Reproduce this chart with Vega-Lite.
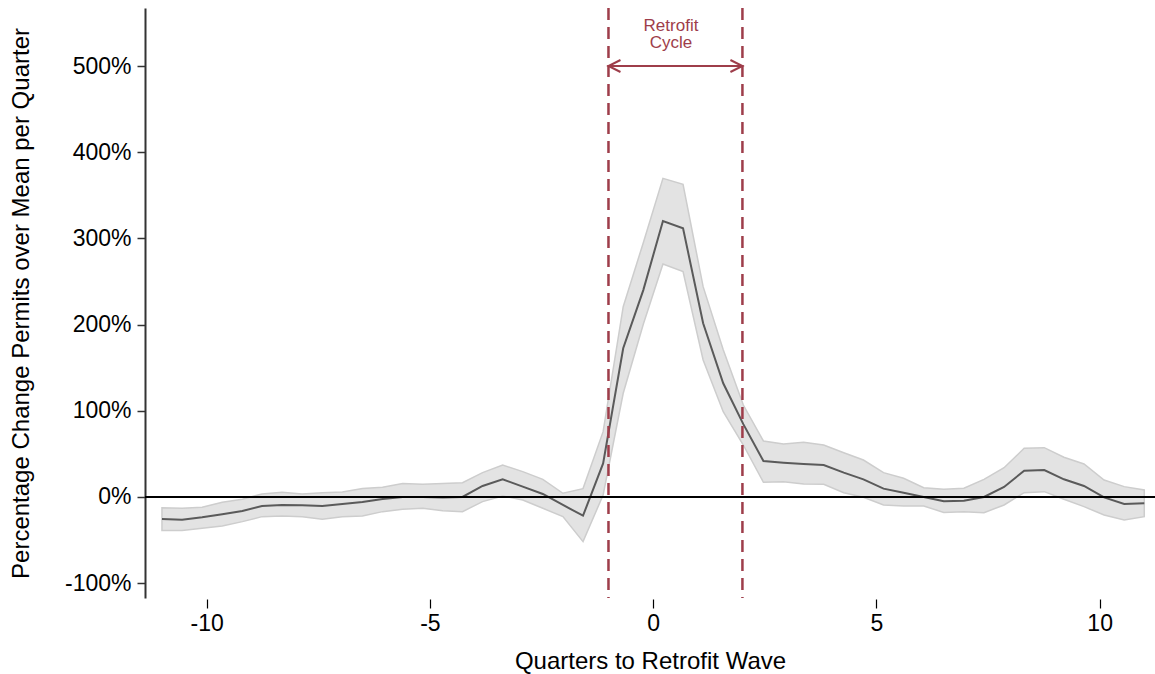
{
  "$schema": "https://vega.github.io/schema/vega-lite/v6.json",
  "width": 1010,
  "height": 590,
  "autosize": {"type": "none"},
  "padding": {"left": 145, "top": 8, "right": 0, "bottom": 76},
  "config": {"view": {"stroke": null}, "font": "Liberation Sans", "axis": {"grid": false}},
  "datasets": {
    "series": [
      {"q": -11.00, "est": -25.5, "lo": -39.0, "hi": -12.4},
      {"q": -10.55, "est": -26.3, "lo": -39.0, "hi": -13.1},
      {"q": -10.10, "est": -23.6, "lo": -36.4, "hi": -12.0},
      {"q": -9.65, "est": -20.0, "lo": -33.6, "hi": -6.2},
      {"q": -9.20, "est": -16.2, "lo": -28.6, "hi": -2.7},
      {"q": -8.76, "est": -10.4, "lo": -22.8, "hi": 3.5},
      {"q": -8.31, "est": -9.3, "lo": -22.0, "hi": 5.4},
      {"q": -7.86, "est": -9.7, "lo": -22.8, "hi": 3.5},
      {"q": -7.41, "est": -10.4, "lo": -25.9, "hi": 5.0},
      {"q": -6.96, "est": -8.1, "lo": -22.8, "hi": 5.8},
      {"q": -6.51, "est": -5.8, "lo": -22.0, "hi": 9.7},
      {"q": -6.06, "est": -2.3, "lo": -17.0, "hi": 11.2},
      {"q": -5.61, "est": 0.0, "lo": -14.3, "hi": 15.5},
      {"q": -5.16, "est": 0.0, "lo": -13.1, "hi": 14.7},
      {"q": -4.71, "est": -0.5, "lo": -15.9, "hi": 15.5},
      {"q": -4.27, "est": 0.0, "lo": -17.0, "hi": 16.6},
      {"q": -3.82, "est": 12.8, "lo": -5.4, "hi": 28.2},
      {"q": -3.37, "est": 20.5, "lo": 1.2, "hi": 37.1},
      {"q": -2.92, "est": 12.0, "lo": -3.5, "hi": 29.4},
      {"q": -2.47, "est": 3.5, "lo": -13.1, "hi": 20.5},
      {"q": -2.02, "est": -9.3, "lo": -22.8, "hi": 4.3},
      {"q": -1.57, "est": -21.7, "lo": -51.8, "hi": 9.7},
      {"q": -1.12, "est": 39.0, "lo": 2.3, "hi": 75.8},
      {"q": -0.67, "est": 172.5, "lo": 120.3, "hi": 220.8},
      {"q": -0.22, "est": 240.0, "lo": 200.3, "hi": 295.0},
      {"q": 0.22, "est": 320.2, "lo": 270.3, "hi": 369.7},
      {"q": 0.67, "est": 311.7, "lo": 261.4, "hi": 362.7},
      {"q": 1.12, "est": 201.5, "lo": 159.0, "hi": 244.0},
      {"q": 1.57, "est": 131.9, "lo": 99.0, "hi": 170.9},
      {"q": 2.02, "est": 84.5, "lo": 60.3, "hi": 106.7},
      {"q": 2.47, "est": 41.8, "lo": 17.0, "hi": 65.0},
      {"q": 2.92, "est": 39.8, "lo": 17.8, "hi": 61.5},
      {"q": 3.37, "est": 38.3, "lo": 15.1, "hi": 63.4},
      {"q": 3.82, "est": 37.1, "lo": 14.7, "hi": 60.3},
      {"q": 4.27, "est": 28.2, "lo": 5.0, "hi": 51.4},
      {"q": 4.71, "est": 20.5, "lo": -0.4, "hi": 42.9},
      {"q": 5.16, "est": 9.7, "lo": -9.3, "hi": 28.2},
      {"q": 5.61, "est": 5.0, "lo": -10.4, "hi": 21.7},
      {"q": 6.06, "est": 0.0, "lo": -10.4, "hi": 10.8},
      {"q": 6.51, "est": -5.0, "lo": -18.0, "hi": 9.0},
      {"q": 6.96, "est": -4.3, "lo": -17.0, "hi": 10.1},
      {"q": 7.41, "est": 0.0, "lo": -18.2, "hi": 20.5},
      {"q": 7.86, "est": 11.6, "lo": -9.3, "hi": 34.0},
      {"q": 8.31, "est": 30.5, "lo": 5.0, "hi": 56.5},
      {"q": 8.76, "est": 31.3, "lo": 6.2, "hi": 57.2},
      {"q": 9.20, "est": 20.5, "lo": -2.7, "hi": 46.1},
      {"q": 9.65, "est": 12.8, "lo": -11.2, "hi": 38.3},
      {"q": 10.10, "est": -0.4, "lo": -20.9, "hi": 19.7},
      {"q": 10.55, "est": -8.1, "lo": -26.7, "hi": 12.0},
      {"q": 11.00, "est": -7.3, "lo": -22.8, "hi": 8.1}
    ],
    "cycle": [{"q": -1}, {"q": 2}],
    "arrow": [{"q1": -1, "q2": 2, "v": 500}],
    "label": [{"q": 0.4, "v": 546.5, "t": "Retrofit\nCycle"}]
  },
  "layer": [
    {
      "data": {"name": "series"},
      "mark": {"type": "area", "fill": "#e3e3e3", "stroke": "#cdcdcd", "strokeWidth": 1.5},
      "encoding": {
        "x": {
          "field": "q", "type": "quantitative",
          "scale": {"domain": [-11.38, 11.24], "nice": false, "zero": false},
          "axis": {
            "values": [-10, -5, 0, 5, 10], "domain": false, "offset": 1,
            "labelExpr": "datum.value < 0 ? '-' + abs(datum.value) : '' + datum.value",
            "tickSize": 9, "tickColor": "#000000", "tickWidth": 1.2,
            "labelFontSize": 23, "labelColor": "#000000", "labelPadding": 4,
            "title": "Quarters to Retrofit Wave", "titleFontSize": 24, "titleFontWeight": "normal",
            "titleColor": "#000000", "titleBaseline": "alphabetic", "titleY": 69
          }
        },
        "y": {
          "field": "lo", "type": "quantitative",
          "scale": {"domain": [-117.2, 567.3], "nice": false, "zero": false},
          "axis": {
            "values": [-100, 0, 100, 200, 300, 400, 500],
            "labelExpr": "datum.value + '%'",
            "domainColor": "#333333", "domainWidth": 2,
            "tickSize": 8, "tickColor": "#333333", "tickWidth": 1.5,
            "labelFontSize": 23, "labelColor": "#000000", "labelPadding": 6,
            "title": "Percentage Change Permits over Mean per Quarter",
            "titleFontSize": 24, "titleFontWeight": "normal", "titleColor": "#000000",
            "titleX": -124, "titleY": 295, "titleAlign": "center", "titleBaseline": "middle"
          }
        },
        "y2": {"field": "hi"}
      }
    },
    {
      "data": {"name": "series"},
      "mark": {"type": "line", "color": "#5a5a5a", "strokeWidth": 2},
      "encoding": {
        "x": {"field": "q", "type": "quantitative"},
        "y": {"field": "est", "type": "quantitative"}
      }
    },
    {
      "data": {"values": [{"v": 0}]},
      "mark": {"type": "rule", "color": "#000000", "strokeWidth": 2},
      "encoding": {"y": {"field": "v", "type": "quantitative"}}
    },
    {
      "data": {"name": "cycle"},
      "mark": {"type": "rule", "color": "#9e3d4a", "strokeWidth": 2.5, "strokeDash": [12, 7]},
      "encoding": {"x": {"field": "q", "type": "quantitative"}}
    },
    {
      "data": {"name": "arrow"},
      "mark": {"type": "rule", "color": "#9e3d4a", "strokeWidth": 2},
      "encoding": {
        "x": {"field": "q1", "type": "quantitative"},
        "x2": {"field": "q2"},
        "y": {"field": "v", "type": "quantitative"}
      }
    },
    {
      "data": {"values": [{"q": -1, "v": 500}]},
      "mark": {"type": "point", "shape": "M 1 -0.5 L 0 0 L 1 0.5", "filled": false, "stroke": "#9e3d4a", "strokeWidth": 2, "size": 576, "opacity": 1},
      "encoding": {
        "x": {"field": "q", "type": "quantitative"},
        "y": {"field": "v", "type": "quantitative"}
      }
    },
    {
      "data": {"values": [{"q": 2, "v": 500}]},
      "mark": {"type": "point", "shape": "M -1 -0.5 L 0 0 L -1 0.5", "filled": false, "stroke": "#9e3d4a", "strokeWidth": 2, "size": 576, "opacity": 1},
      "encoding": {
        "x": {"field": "q", "type": "quantitative"},
        "y": {"field": "v", "type": "quantitative"}
      }
    },
    {
      "data": {"name": "label"},
      "mark": {"type": "text", "color": "#9e3d4a", "fontSize": 17, "lineHeight": 17, "lineBreak": "\n", "align": "center", "baseline": "middle"},
      "encoding": {
        "x": {"field": "q", "type": "quantitative"},
        "y": {"field": "v", "type": "quantitative"},
        "text": {"field": "t"}
      }
    }
  ]
}
